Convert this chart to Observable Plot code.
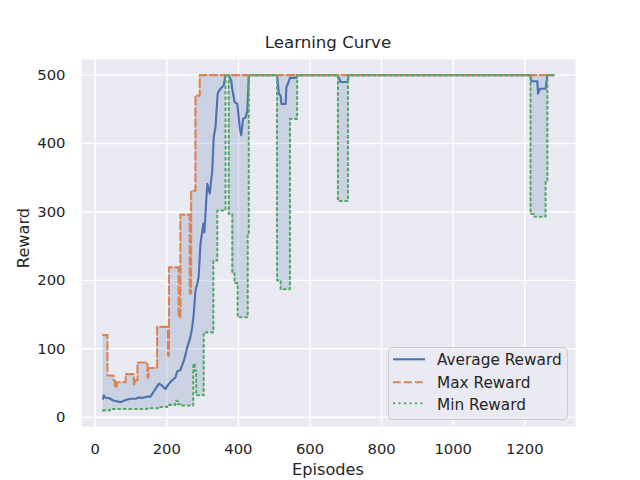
<!DOCTYPE html>
<html>
<head>
<meta charset="utf-8">
<script src="https://cdn.jsdelivr.net/npm/d3@7"></script>
<script src="https://cdn.jsdelivr.net/npm/@observablehq/plot@0.6"></script>
<style>
  html, body { margin: 0; padding: 0; background: #ffffff; }
  #wrap { position: relative; width: 640px; height: 480px; }
</style>
</head>
<body>
<div id="wrap"></div>
<script>
// ---- Data ----
const avgEpisodes = [22, 24, 27, 33, 38, 52, 71, 85, 99, 113, 122, 131, 145, 154, 168, 178, 187, 196, 206, 215, 224, 229, 238, 248, 257, 266, 271, 275, 280, 285, 289, 294, 302, 305, 313, 320, 327, 331, 336, 342, 348, 359, 364, 373, 380, 383, 389, 397, 404, 408, 413, 420, 425, 429, 508, 513, 518, 520, 532, 534, 538, 544, 562, 564, 678, 685, 706, 708, 1216, 1218, 1235, 1237, 1242, 1258, 1263, 1280];
const avgReward   = [27, 32, 29, 28, 28, 24, 22, 25, 27, 27, 29, 28, 30, 30, 41, 49, 46, 41, 49, 54, 58, 67, 69, 83, 102, 117, 132, 150, 185, 195, 205, 253, 283, 270, 341, 327, 361, 409, 424, 473, 479, 485, 500, 500, 492, 479, 461, 458, 422, 412, 436, 438, 448, 500, 500, 473, 470, 458, 458, 482, 487, 496, 496, 500, 500, 490, 490, 500, 500, 491, 491, 473, 480, 480, 500, 500];

// Max / Min rewards: step values starting at each episode
const bandEpisodes = [22, 34, 41, 51, 55, 60, 85, 108, 112, 118, 146, 149, 173, 182, 201, 203, 206, 224, 230, 233, 238, 264, 268, 274, 278, 280, 282, 292, 303, 330, 341, 364, 373, 383, 389, 398, 426, 429, 508, 518, 544, 564, 678, 706, 1216, 1227, 1258, 1263, 1280];
const maxReward    = [120, 61, 61, 54, 44, 51, 63, 48, 54, 80, 58, 72, 132, 132, 132, 90, 219, 219, 219, 146, 296, 181, 331, 331, 331, 470, 470, 500, 500, 500, 500, 500, 500, 500, 500, 500, 500, 500, 500, 500, 500, 500, 500, 500, 500, 500, 500, 500, 500];
const minReward    = [10, 10, 12, 12, 12, 12, 12, 12, 12, 12, 13, 13, 13, 15, 18, 18, 18, 24, 19, 19, 17, 17, 17, 78, 68, 68, 32, 32, 124, 229, 302, 500, 297, 210, 196, 146, 268, 500, 200, 187, 436, 500, 316, 500, 297, 293, 346, 500, 500];

const xTicks = [0, 200, 400, 600, 800, 1000, 1200];
const yTicks = [0, 100, 200, 300, 400, 500];

const titleText = "Learning Curve";
const xLabel = "Episodes";
const yLabel = "Reward";
const seriesNames = ["Average Reward", "Max Reward", "Min Reward"];
const seriesColors = ["#4c72b0", "#dd8452", "#55a868"];

// ---- Tables ----
const avgData = avgEpisodes.map((e, i) => ({episode: e, value: avgReward[i]}));
const bandData = bandEpisodes.map((e, i) => ({episode: e, max: maxReward[i], min: minReward[i]}));

const FONT = "DejaVu Sans";
const INK = "#262626";
const dashMax = "7.7,3.3";
const dashMin = "2.1,3.4";

const chart = Plot.plot({
  width: 640,
  height: 480,
  marginLeft: 81,
  marginRight: 65,
  marginTop: 59,
  marginBottom: 54,
  style: {background: "transparent", fontFamily: FONT, fontSize: "14.8px", color: INK},
  x: {domain: [-38.3, 1341.6]},
  y: {domain: [-13.6, 522.8]},
  marks: [
    Plot.frame({fill: "#eaeaf2", stroke: "none"}),
    Plot.gridX(xTicks, {stroke: "#ffffff", strokeOpacity: 1, strokeWidth: 1.4}),
    Plot.gridY(yTicks, {stroke: "#ffffff", strokeOpacity: 1, strokeWidth: 1.4}),
    Plot.areaY(bandData, {x: "episode", y1: "min", y2: "max", curve: "step-after", fill: seriesColors[0], fillOpacity: 0.2}),
    Plot.line(avgData, {x: "episode", y: "value", stroke: seriesColors[0], strokeWidth: 2.1}),
    Plot.line(bandData, {x: "episode", y: "max", curve: "step-after", stroke: seriesColors[1], strokeWidth: 2.1, strokeDasharray: dashMax}),
    Plot.line(bandData, {x: "episode", y: "min", curve: "step-after", stroke: seriesColors[2], strokeWidth: 2.1, strokeDasharray: dashMin}),
    Plot.axisX(xTicks, {tickSize: 0, tickPadding: 17, label: null, fontSize: 14.8, tickFormat: d => String(d), fill: INK}),
    Plot.axisY(yTicks, {tickSize: 0, tickPadding: 16, label: null, fontSize: 14.8, tickFormat: d => String(d), fill: INK})
  ]
});

document.getElementById("wrap").appendChild(chart);

// ---- Titles and legend written into the same SVG ----
const svg = d3.select(chart);
const txt = svg.append("g").attr("font-family", FONT).attr("fill", INK).attr("text-anchor", "middle");
txt.append("text").attr("x", 328).attr("y", 48).attr("font-size", 16.6).text(titleText);
txt.append("text").attr("x", 328).attr("y", 474.5).attr("font-size", 16.2).text(xLabel);
txt.append("text").attr("transform", "translate(29,238) rotate(-90)").attr("font-size", 16.2).text(yLabel);

const lg = svg.append("g").attr("font-family", FONT).attr("text-anchor", "start");
lg.append("rect").attr("x", 388.5).attr("y", 347.5).attr("width", 179).attr("height", 72).attr("rx", 4)
  .attr("fill", "#eaeaf2").attr("fill-opacity", 0.8).attr("stroke", "#cccccc").attr("stroke-width", 1);
const lineY = [359.3, 382.3, 403.3];
const textY = [365, 388.3, 410];
const dashes = [null, dashMax, dashMin];
seriesNames.forEach((name, i) => {
  const l = lg.append("line").attr("x1", 393).attr("x2", 425).attr("y1", lineY[i]).attr("y2", lineY[i])
    .attr("stroke", seriesColors[i]).attr("stroke-width", 2.1);
  if (dashes[i]) l.attr("stroke-dasharray", dashes[i]);
  lg.append("text").attr("x", 437).attr("y", textY[i]).attr("font-size", 15.3).attr("fill", INK).text(name);
});
</script>
</body>
</html>
